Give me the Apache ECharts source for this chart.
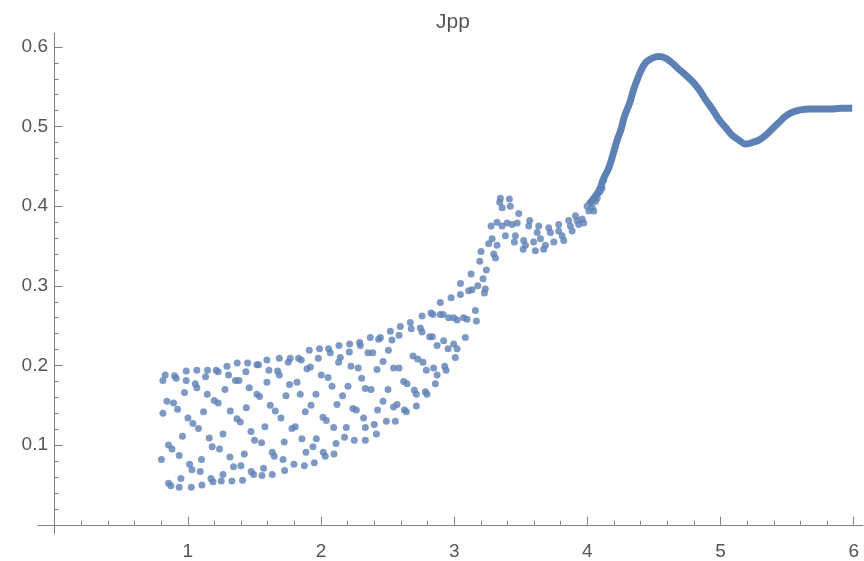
<!DOCTYPE html>
<html>
<head>
<meta charset="utf-8">
<script src="https://cdn.jsdelivr.net/npm/echarts@6/dist/echarts.min.js"></script>
<style>
html,body{margin:0;padding:0;background:#fff;}
#chart{width:864px;height:561px;}
</style>
</head>
<body>
<div id="chart"></div>
<script>
// Scattered points (x 0.8 .. 4.1)
const cloudX = [
0.830,0.813,0.900,0.913,0.988,0.988,1.068,1.133,1.148,1.213,1.228,1.294,1.306,1.371,1.358,1.384,1.449,1.436,1.519,1.531,
1.594,1.594,1.609,1.674,1.687,1.687,1.754,1.769,1.764,1.820,1.832,1.852,1.895,1.920,1.980,2.002,2.053,2.083,
0.843,0.893,0.923,0.975,1.056,1.068,1.146,1.198,1.228,1.279,1.461,1.519,1.539,1.439,1.319,1.369,1.394,1.619,1.657,1.699,
1.737,1.844,1.962,1.925,1.882,2.120,2.015,2.040,2.095,0.813,1.001,1.038,1.080,1.118,0.960,1.264,1.474,1.579,1.501,1.554,
1.782,1.807,1.724,1.857,1.940,1.965,2.113,0.855,0.881,0.802,0.935,1.013,1.031,1.103,1.093,1.161,1.183,1.238,1.316,1.343,
1.399,1.424,1.476,1.494,1.569,1.634,1.649,1.715,1.797,1.875,1.887,2.017,2.032,2.098,1.950,1.727,1.634,1.557,0.855,0.873,
0.948,0.935,1.026,1.106,1.174,1.189,1.251,1.264,1.331,1.411,
2.896,2.977,3.159,3.167,2.759,2.826,2.841,2.896,2.917,2.959,2.996,3.022,3.071,3.097,2.671,2.678,2.596,2.521,2.446,2.433,
2.370,2.290,2.295,2.215,2.135,2.057,2.070,1.989,1.912,2.746,2.759,2.816,2.836,2.921,2.872,2.954,2.996,3.022,3.084,3.009,
2.586,2.533,2.506,2.466,2.421,2.353,2.388,2.305,2.225,2.280,2.203,2.145,2.132,2.213,2.162,2.240,2.265,2.333,2.376,2.503,
2.545,2.586,2.621,2.646,2.691,2.726,2.766,2.701,2.716,2.791,2.846,2.872,2.929,2.939,2.784,2.796,2.859,2.466,2.545,2.571,
2.626,2.641,2.716,2.425,2.320,2.491,2.558,2.190,2.400,2.333,2.416,2.177,2.250,2.333,
3.347,3.342,3.360,3.415,3.422,3.485,3.277,3.322,3.360,3.397,3.435,3.473,3.385,3.460,3.452,3.285,3.259,3.322,3.202,3.297,
3.310,3.192,3.242,3.127,3.217,3.047,3.177,3.109,3.134,3.234,3.227,3.047,
3.567,3.560,3.522,3.535,3.518,3.597,3.610,3.623,3.635,3.648,3.685,3.672,3.710,3.723,3.748,3.785,3.785,3.811,3.823,3.860,
3.873,3.886,3.911,3.923,3.935,3.961,3.973,3.998,4.011,4.036,4.048,4.061,4.074,4.086,4.098,4.111,4.123
];
const cloudY = [
0.188,0.181,0.187,0.184,0.193,0.181,0.194,0.186,0.194,0.194,0.192,0.199,0.188,0.203,0.181,0.181,0.203,0.192,0.201,0.201,
0.207,0.179,0.194,0.193,0.188,0.209,0.204,0.209,0.176,0.179,0.209,0.207,0.196,0.198,0.209,0.188,0.185,0.174,
0.155,0.153,0.145,0.166,0.177,0.172,0.164,0.156,0.153,0.170,0.172,0.164,0.161,0.147,0.143,0.133,0.129,0.150,0.143,0.134,
0.162,0.164,0.164,0.150,0.142,0.151,0.135,0.131,0.122,0.140,0.134,0.127,0.121,0.142,0.111,0.114,0.117,0.123,0.106,0.103,
0.121,0.123,0.104,0.108,0.098,0.108,0.102,0.100,0.095,0.082,0.087,0.076,0.069,0.082,0.067,0.109,0.098,0.095,0.085,0.073,
0.074,0.089,0.067,0.063,0.071,0.091,0.086,0.082,0.076,0.074,0.091,0.091,0.086,0.089,0.078,0.068,0.063,0.062,0.052,0.049,
0.058,0.047,0.047,0.050,0.058,0.054,0.055,0.063,0.055,0.056,
0.279,0.285,0.269,0.256,0.262,0.266,0.264,0.264,0.264,0.260,0.260,0.257,0.260,0.258,0.254,0.246,0.249,0.243,0.235,0.233,
0.235,0.229,0.225,0.227,0.225,0.221,0.216,0.221,0.219,0.247,0.242,0.236,0.236,0.231,0.225,0.221,0.227,0.221,0.235,0.210,
0.238,0.232,0.219,0.205,0.195,0.216,0.216,0.184,0.199,0.197,0.174,0.210,0.204,0.217,0.162,0.146,0.144,0.171,0.170,0.170,
0.197,0.197,0.180,0.177,0.212,0.208,0.204,0.169,0.164,0.194,0.197,0.188,0.199,0.194,0.167,0.164,0.177,0.155,0.148,0.151,
0.144,0.142,0.149,0.144,0.134,0.130,0.130,0.122,0.126,0.122,0.114,0.110,0.106,0.106,
0.410,0.405,0.398,0.409,0.400,0.391,0.375,0.380,0.375,0.379,0.377,0.379,0.363,0.363,0.355,0.359,0.353,0.351,0.343,0.340,
0.335,0.331,0.320,0.315,0.309,0.303,0.300,0.294,0.295,0.296,0.291,0.289,
0.382,0.375,0.357,0.351,0.346,0.355,0.344,0.367,0.375,0.359,0.351,0.346,0.373,0.367,0.355,0.377,0.369,0.363,0.357,0.382,
0.375,0.369,0.388,0.382,0.377,0.384,0.379,0.400,0.394,0.398,0.394,0.406,0.410,0.417,0.419,0.423,0.433
];
// Dense part (x 4.0 .. 6.0), read along the band
const curveX = [4.011,4.086,4.123,4.161,4.191,4.224,4.254,4.279,4.319,4.349,4.399,4.436,4.487,4.537,4.587,4.637,4.687,4.737,4.787,4.837,
4.887,4.938,4.987,5.038,5.088,5.138,5.188,5.238,5.288,5.338,5.388,5.438,5.488,5.539,5.601,5.676,5.751,5.826,5.901,5.989];
const curveY = [0.402,0.419,0.435,0.448,0.464,0.483,0.497,0.513,0.530,0.547,0.569,0.580,0.586,0.588,0.586,0.580,0.572,0.565,0.557,0.547,
0.534,0.522,0.509,0.499,0.489,0.483,0.478,0.480,0.483,0.489,0.497,0.505,0.513,0.518,0.521,0.522,0.522,0.522,0.523,0.523];

const xMajor = [1,2,3,4,5,6];
const xMinor = [0.2,0.4,0.6,0.8,1.2,1.4,1.6,1.8,2.2,2.4,2.6,2.8,3.2,3.4,3.6,3.8,4.2,4.4,4.6,4.8,5.2,5.4,5.6,5.8];
const yMajor = [0.1,0.2,0.3,0.4,0.5,0.6];
const yMinor = [0.02,0.04,0.06,0.08,0.12,0.14,0.16,0.18,0.22,0.24,0.26,0.28,0.32,0.34,0.36,0.38,0.42,0.44,0.46,0.48,0.52,0.54,0.56,0.58];
const yLabels = ['0.1','0.2','0.3','0.4','0.5','0.6'];
const xLabels = ['1','2','3','4','5','6'];

const COLOR = '#5E81B5';
const AX = '#808080';
const FONT = 'Liberation Sans, Arial, sans-serif';
const XMIN = -0.125, XMAX = 6.07, YMIN = -0.0116, YMAX = 0.6175;

const cloud = cloudX.map((x, i) => [x, cloudY[i]]);
const curve = curveX.map((x, i) => [x, curveY[i]]);

const chart = echarts.init(document.getElementById('chart'), null, {renderer: 'canvas'});
const lineStyle = {color: AX, width: 1};
chart.setOption({
  animation: false,
  backgroundColor: '#fff',
  title: {
    text: 'Jpp', left: 431, top: 7,
    textStyle: {fontSize: 21, fontWeight: 'normal', color: '#555', fontFamily: FONT}
  },
  grid: {left: 38, right: 1, top: 33, bottom: 20, containLabel: false},
  xAxis: [
    {
      type: 'value', min: XMIN, max: XMAX,
      axisLine: {show: true, onZero: true, onZeroAxisIndex: 0, lineStyle: lineStyle},
      axisTick: {show: true, inside: true, length: 8, customValues: xMajor, lineStyle: lineStyle},
      axisLabel: {show: true, customValues: xMajor, margin: 8, color: '#555', fontSize: 19, fontFamily: FONT,
                  formatter: v => xLabels[xMajor.indexOf(Math.round(v))] || ''},
      splitLine: {show: false}
    },
    {
      type: 'value', min: XMIN, max: XMAX, position: 'bottom',
      axisLine: {show: false, onZero: true, onZeroAxisIndex: 0},
      axisTick: {show: true, inside: true, length: 4, customValues: xMinor, lineStyle: lineStyle},
      axisLabel: {show: false},
      splitLine: {show: false}
    }
  ],
  yAxis: [
    {
      type: 'value', min: YMIN, max: YMAX,
      axisLine: {show: true, onZero: true, onZeroAxisIndex: 0, lineStyle: lineStyle},
      axisTick: {show: true, inside: true, length: 8, customValues: yMajor, lineStyle: lineStyle},
      axisLabel: {show: true, customValues: yMajor, margin: -10, color: '#555', fontSize: 19, fontFamily: FONT,
                  formatter: v => yLabels[yMajor.indexOf(Math.round(v * 10) / 10)] || ''},
      splitLine: {show: false}
    },
    {
      type: 'value', min: YMIN, max: YMAX, position: 'left',
      axisLine: {show: false, onZero: true, onZeroAxisIndex: 0},
      axisTick: {show: true, inside: true, length: 4, customValues: yMinor, lineStyle: lineStyle},
      axisLabel: {show: false},
      splitLine: {show: false}
    }
  ],
  series: [
    {
      type: 'line', xAxisIndex: 0, yAxisIndex: 0, data: curve, smooth: 0.35,
      symbol: 'none', lineStyle: {color: COLOR, width: 7}, z: 2
    },
    {
      type: 'scatter', xAxisIndex: 0, yAxisIndex: 0, data: cloud,
      symbol: 'circle', symbolSize: 7, itemStyle: {color: COLOR}, z: 3
    }
  ]
});
</script>
</body>
</html>
